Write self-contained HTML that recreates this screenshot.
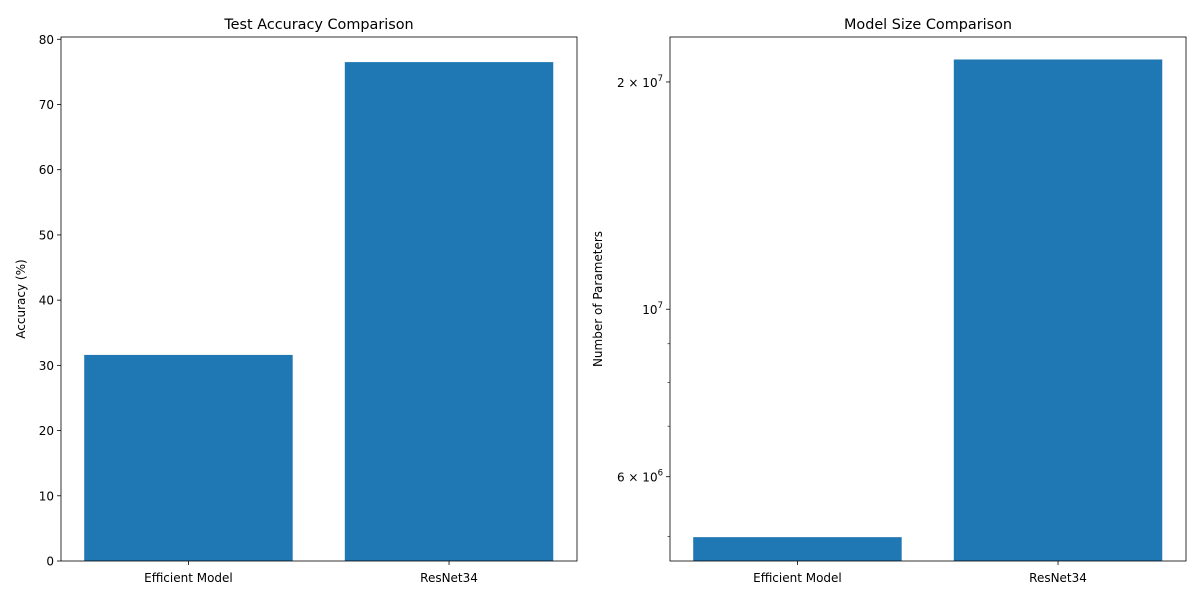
<!DOCTYPE html>
<html><head><meta charset="utf-8"><style>
body{margin:0;background:#fff;}
svg{font-family:"DejaVu Sans","Liberation Sans",sans-serif;}
</style></head><body>
<svg id="c" width="1200" height="600" viewBox="0 0 1200 600"></svg>
<script>
const categories = ["Efficient Model", "ResNet34"];
const accuracyValues = [31.6, 76.5];
const paramValues = [4.99e6, 2.142e7];
const accTicks = [0,10,20,30,40,50,60,70,80];
const paramMajorTicks = [2e7, 1e7, 6e6];
const paramMajorLabels = [["2","7"],["","7"],["6","6"]];
const paramMinorTicks = [9e6, 8e6, 7e6, 5e6];

const NS="http://www.w3.org/2000/svg";
const svg=document.getElementById('c');
function el(t,a,p){const e=document.createElementNS(NS,t);for(const k in a)e.setAttribute(k,a[k]);(p||svg).appendChild(e);return e;}

const L={x0:61,x1:577,y0:37,y1:561};
const yAcc=v=>L.y1-(v-0)/(80.35-0)*(L.y1-L.y0);
const xBand=(P,i)=>{const w=(P.x1-P.x0);return P.x0+w*(0.045+i*0.505);};
const bw=(P)=>(P.x1-P.x0)*0.404;
const g1=el('g',{});


accuracyValues.forEach((v,i)=>{
  const r=el('rect',{x:xBand(L,i),y:yAcc(v),width:bw(L),height:L.y1-yAcc(v),fill:'#1f77b4'},g1);
  
  
});
accTicks.forEach(t=>{
  const y=yAcc(t);
  el('line',{x1:L.x0-4,x2:L.x0,y1:y,y2:y,stroke:'#000','stroke-width':0.8},g1);
  const tx=el('text',{x:L.x0-7,y:y+4.5,'text-anchor':'end','font-size':12},g1);tx.textContent=t;
  
  
});
categories.forEach((c,i)=>{
  const x=xBand(L,i)+bw(L)/2;
  el('line',{x1:x,x2:x,y1:L.y1,y2:L.y1+4,stroke:'#000','stroke-width':0.8},g1);
  const tx=el('text',{x:x,y:L.y1+21,'text-anchor':'middle','font-size':12},g1);tx.textContent=c;
  
  
});
el('rect',{x:L.x0,y:L.y0,width:L.x1-L.x0,height:L.y1-L.y0,fill:'none',stroke:'#000','stroke-width':0.8},g1);
let t=el('text',{x:(L.x0+L.x1)/2,y:29,'text-anchor':'middle','font-size':14.4},g1);t.textContent='Test Accuracy Comparison';

t=el('text',{x:0,y:0,'text-anchor':'middle','font-size':12,transform:'translate(25,299) rotate(-90)'},g1);t.textContent='Accuracy (%)';


const R={x0:670,x1:1186,y0:37,y1:561};
const lmin=Math.log10(4.64e6), lmax=Math.log10(2.294e7);
const yP=v=>R.y1-(Math.log10(v)-lmin)/(lmax-lmin)*(R.y1-R.y0);
const g2=el('g',{});


paramValues.forEach((v,i)=>{
  const r=el('rect',{x:xBand(R,i),y:yP(v),width:bw(R),height:R.y1-yP(v),fill:'#1f77b4'},g2);
  
  
});
paramMajorTicks.forEach((v,i)=>{
  const y=yP(v);
  el('line',{x1:R.x0-4,x2:R.x0,y1:y,y2:y,stroke:'#000','stroke-width':0.8},g2);
  const tx=el('text',{x:R.x0-7,y:y+5,'text-anchor':'end','font-size':12},g2);
  const [m,e]=paramMajorLabels[i];
  tx.innerHTML=(m?m+' \u00d7 ':'')+'10<tspan dy="-6" font-size="8.5">'+e+'</tspan>';
  
  
});
paramMinorTicks.forEach(v=>{const y=yP(v);el('line',{x1:R.x0-2.5,x2:R.x0,y1:y,y2:y,stroke:'#000','stroke-width':0.6},g2);});
categories.forEach((c,i)=>{
  const x=xBand(R,i)+bw(R)/2;
  el('line',{x1:x,x2:x,y1:R.y1,y2:R.y1+4,stroke:'#000','stroke-width':0.8},g2);
  const tx=el('text',{x:x,y:R.y1+21,'text-anchor':'middle','font-size':12},g2);tx.textContent=c;
  
  
});
el('rect',{x:R.x0,y:R.y0,width:R.x1-R.x0,height:R.y1-R.y0,fill:'none',stroke:'#000','stroke-width':0.8},g2);
t=el('text',{x:(R.x0+R.x1)/2,y:29,'text-anchor':'middle','font-size':14.4},g2);t.textContent='Model Size Comparison';

t=el('text',{x:0,y:0,'text-anchor':'middle','font-size':12,transform:'translate(602,299) rotate(-90)'},g2);t.textContent='Number of Parameters';

</script>
</body></html>
